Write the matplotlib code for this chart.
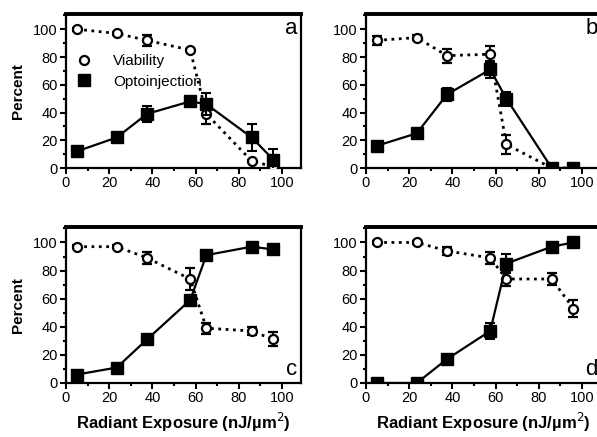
import numpy as np
import matplotlib
matplotlib.use("Agg")
import matplotlib.pyplot as plt
from matplotlib.ticker import MultipleLocator
from matplotlib.lines import Line2D

plt.rcParams['font.family'] = ['Liberation Sans', 'DejaVu Sans']

exposure = [5, 23.5, 37.5, 57.5, 65, 86, 96]
panels = ["a", "b", "c", "d"]

viability = {
    "a": [100, 97, 92, 85, 39, 5, 1],
    "b": [92, 94, 81, 82, 17, 0, 0],
    "c": [97, 97, 89, 74, 39, 37, 31],
    "d": [100, 100, 94, 89, 74, 74, 53],
}
viability_err = {
    "a": [1, 1, 4, 1, 7, 1, 2],
    "b": [3, 2, 5, 6, 7, 0, 0],
    "c": [1, 1, 4, 8, 4, 3, 5],
    "d": [1, 1, 3, 4, 5, 4, 6],
}
opto = {
    "a": [12, 22, 39, 48, 46, 22, 6],
    "b": [16, 25, 53, 71, 50, 0, 0],
    "c": [6, 11, 31, 59, 91, 97, 95],
    "d": [0, 0, 17, 37, 85, 97, 100],
}
opto_err = {
    "a": [2, 1, 6, 2, 8, 10, 8],
    "b": [2, 2, 5, 6, 5, 0, 0],
    "c": [2, 2, 2, 3, 3, 2, 2],
    "d": [0, 0, 3, 6, 7, 2, 1],
}

W, H = 597, 437
fig = plt.figure(figsize=(W / 100, H / 100), dpi=100)

# pixel boxes: left, top, width, height
boxes = {
    "a": (66, 14, 235, 154),
    "b": (366, 14, 235, 154),
    "c": (66, 227, 235, 156),
    "d": (366, 227, 235, 156),
}

for p in panels:
    l, t, w, h = boxes[p]
    ax = fig.add_axes([l / W, 1 - (t + h) / H, w / W, h / H])

    ax.errorbar(exposure, viability[p], yerr=viability_err[p], color="black",
                ls=":", lw=2, marker="o", ms=6.5, mfc="white", mec="black",
                mew=1.6, capsize=3.5, elinewidth=1.5, capthick=1.5,
                label="Viability", zorder=3)
    ax.errorbar(exposure, opto[p], yerr=opto_err[p], color="black",
                ls="-", lw=1.6, marker="s", ms=8, mfc="black", mec="black",
                capsize=3.5, elinewidth=1.5, capthick=1.5,
                label="Optoinjection", zorder=4)

    ax.set_xlim(0, 108.8)
    ax.set_ylim(0, 111)
    ax.xaxis.set_major_locator(MultipleLocator(20))
    ax.xaxis.set_minor_locator(MultipleLocator(10))
    ax.yaxis.set_major_locator(MultipleLocator(20))
    ax.yaxis.set_minor_locator(MultipleLocator(10))
    ax.tick_params(which="major", direction="out", length=4, width=1.5,
                   labelsize=10.5, pad=2)
    ax.tick_params(which="minor", direction="out", length=2.5, width=1.5)
    for s in ["left", "bottom", "right"]:
        ax.spines[s].set_linewidth(1.6)
    ax.spines["top"].set_linewidth(2.8)

    if p in ("a", "b"):
        ax.text(0.985, 0.975, p, transform=ax.transAxes, ha="right", va="top",
                fontsize=16)
    else:
        ax.text(0.985, 0.02, p, transform=ax.transAxes, ha="right", va="bottom",
                fontsize=16)

    if p in ("a", "c"):
        ax.set_ylabel("Percent", fontsize=11, fontweight="bold", labelpad=6)
    if p in ("c", "d"):
        ax.set_xlabel("Radiant Exposure (nJ/\u00b5m$^2$)", fontsize=12,
                      fontweight="bold", labelpad=4)

    if p == "a":
        hv = Line2D([], [], ls="none", marker="o", ms=6.5, mfc="white",
                    mec="black", mew=1.6)
        ho = Line2D([], [], ls="none", marker="s", ms=8, mfc="black", mec="black")
        ax.legend([hv, ho], ["Viability", "Optoinjection"], loc="upper left",
                  bbox_to_anchor=(-0.02, 0.83), frameon=False, fontsize=11,
                  handlelength=1.2, handletextpad=1.3, labelspacing=0.45)

fig.savefig("out.png", dpi=100)
